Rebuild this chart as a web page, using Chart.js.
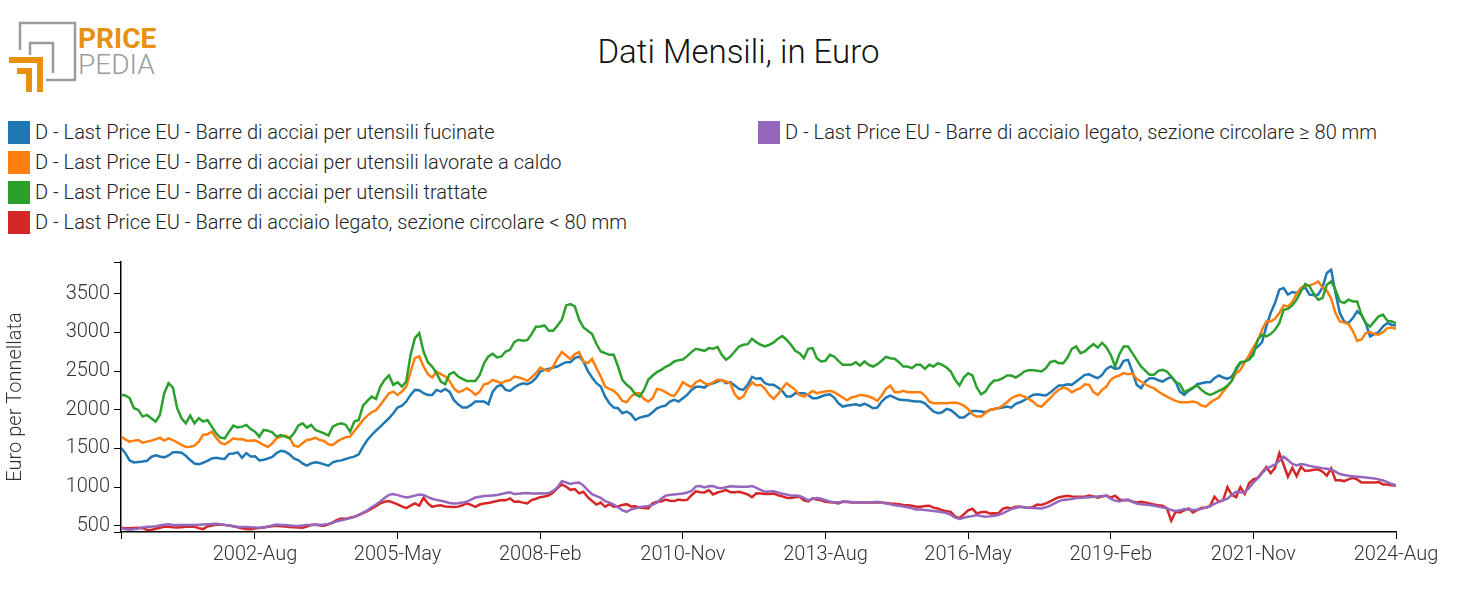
<!DOCTYPE html>
<html>
<head>
<meta charset="utf-8">
<script src="https://cdn.jsdelivr.net/npm/chart.js@4.4.1/dist/chart.umd.min.js"></script>
<style>
  body { margin: 0; background: #fff; }
  #wrap { position: relative; width: 1477px; height: 615px; font-family: Roboto, sans-serif; }
  #chart { position: absolute; left: 0; top: 0; }
  #title { position: absolute; left: 0; top: 32px; width: 1477px; text-align: center;
           font-size: 33px; font-weight: 300; color: #111; }
  .brand { position: absolute; left: 78px; font-size: 28px; line-height: 28px; }
  .leg { position: absolute; height: 23px; font-size: 20px; font-weight: 300; color: #222; white-space: nowrap; }
  .leg span.box { position: absolute; left: 0; top: 0; width: 22px; height: 23px; }
  .leg span.txt { position: absolute; left: 27px; top: 0; line-height: 23px; }
</style>
</head>
<body>
<div id="wrap">
  <svg width="80" height="100" style="position:absolute;left:0;top:0">
    <polyline points="20,50 20,23 75,23 75,80 46,80" fill="none" stroke="#9b9b9b" stroke-width="2.5"/>
    <polyline points="30,55 30,43 53,43 53,73" fill="none" stroke="#9b9b9b" stroke-width="2.5"/>
    <polyline points="9,60 40,60 40,92" fill="none" stroke="#e8900f" stroke-width="6"/>
    <polyline points="17,71 29,71 29,92" fill="none" stroke="#e8900f" stroke-width="6"/>
  </svg>
  <div class="brand" style="top:25px;color:#e8900f;font-weight:700">PRICE</div>
  <div class="brand" style="top:51px;color:#9b9b9b;font-weight:300">PEDIA</div>
  <div id="title">Dati Mensili, in Euro</div>
  <div id="legend"></div>
  <canvas id="chart" width="1477" height="615"></canvas>
</div>
<script>
// monthly values, first one is 2000-Jan
var fucinate = [1510,1440,1345,1320,1325,1330,1340,1390,1410,1395,1385,1410,1450,1450,1445,1405,1350,1305,1295,1315,1340,1370,1380,1370,1365,1430,1435,1450,1380,1440,1395,1400,1345,1355,1370,1390,
  1440,
  1470,1458,1424,1372,1350,1307,1277,1307,1320,1312,1294,1277,1320,1337,1346,1363,1381,1394,1424,1523,1609,1674,1730,1782,1838,1890,1955,2028,2054,2106,2192,2257,2253,2214,2192,2192,2257,
  2235,2270,2235,2127,2071,2028,2028,2063,2106,2106,2106,2071,2235,2300,2322,2257,2244,2287,2322,2343,2330,2356,2408,2494,2516,2529,2546,2559,2589,2615,2615,2667,2689,2624,2503,2417,2343,
  2300,2171,2084,2028,2020,1955,1977,1942,1868,1899,1912,1925,1968,2020,2041,2054,2106,2127,2106,2149,2192,2257,2296,2296,2287,2330,2343,2365,2387,2343,2356,2313,2270,2257,2322,2425,2400,
  2408,2343,2322,2322,2287,2244,2171,2171,2214,2214,2214,2192,2149,2149,2171,2192,2201,2158,2084,2041,2054,2063,2071,2054,2080,2054,2020,2028,2106,2158,2184,2158,2132,2127,2123,2114,2106,
  2106,2084,2028,1977,1955,1968,2011,1994,1951,1899,1899,1942,1985,1985,1977,1968,1998,2011,2020,2028,2041,2028,2076,2097,2123,2158,2192,2201,2192,2184,2222,2270,2313,2313,2330,2322,2365,
  2408,2451,2460,2430,2408,2451,2529,2559,2529,2538,2633,2645,2494,2322,2279,2365,2408,2408,2382,2365,2400,2425,2365,2235,2192,2244,2279,2330,2343,2356,2356,2408,2443,2417,2400,2430,2516,
  2607,2615,2676,2775,2814,2874,3077,3250,3379,3552,3574,3488,3522,3509,3552,3582,3488,3479,3488,3582,3768,3811,3509,3250,3142,3120,3185,3271,3228,3120,2948,2978,3004,3077,3120,3099,3090];

var lavorateCaldo = [1653,1618,1588,1601,1609,1575,1588,1601,1618,1640,1601,1631,1609,1579,1545,1519,1523,1536,1588,1674,1683,1717,1640,1575,1553,1588,1631,1618,1622,1601,1601,1605,1579,1545,1519,1566,1631,
  1653,1666,1640,1536,1523,1566,1609,1618,1640,1609,1596,1553,1545,1588,1622,1644,1653,1726,1795,1868,1925,1968,1994,2063,2140,2214,2235,2192,2235,2300,2494,2667,2689,2559,2460,2417,2494,
  2460,2430,2373,2279,2227,2244,2279,2244,2192,2235,2330,2343,2387,2365,2343,2373,2382,2430,2417,2400,2373,2417,2473,2546,2516,2503,2559,2667,2745,2702,2654,2719,2745,2624,2602,2658,2538,
  2430,2300,2270,2244,2192,2114,2097,2171,2214,2214,2140,2106,2149,2270,2257,2227,2192,2179,2257,2356,2322,2292,2356,2382,2343,2322,2356,2387,2382,2365,2343,2201,2140,2171,2279,2356,2313,
  2322,2270,2192,2140,2201,2279,2343,2300,2257,2192,2171,2201,2244,2214,2227,2235,2244,2227,2192,2158,2123,2158,2171,2192,2184,2171,2149,2114,2184,2270,2313,2227,2227,2244,2227,2227,2227,
  2227,2184,2106,2084,2084,2084,2084,2089,2093,2080,2054,2011,1942,1912,1912,1959,1998,2011,2020,2054,2097,2149,2175,2192,2171,2140,2106,2054,2041,2097,2149,2214,2257,2287,2270,2227,2257,
  2279,2330,2322,2227,2192,2257,2300,2387,2425,2443,2473,2460,2468,2400,2365,2330,2300,2279,2235,2201,2171,2140,2114,2097,2097,2097,2106,2093,2054,2041,2093,2127,2158,2235,2300,2373,2473,
  2516,2615,2702,2805,2892,3034,3142,3142,3177,3250,3349,3336,3392,3496,3574,3600,3608,3626,3660,3582,3539,3436,3250,3142,3129,3108,3021,2892,2905,2991,3004,2978,2969,3004,3056,3064,3047];

var trattate = [2190,2184,2150,2020,1998,1912,1933,1890,1847,1933,2214,2343,2287,2020,1890,1825,1925,1825,1890,1847,1868,1782,1696,1640,1631,1717,1795,1770,1782,1804,1752,1717,1653,1739,1730,1709,1653,
  1674,1653,1631,1696,1795,1825,1770,1804,1739,1717,1696,1666,1782,1812,1825,1804,1717,1847,1868,2054,2114,2171,2140,2300,2387,2443,2322,2356,2300,2365,2710,2926,2991,2753,2615,2559,2473,
  2365,2330,2460,2486,2430,2400,2373,2373,2373,2451,2602,2689,2723,2676,2689,2753,2775,2874,2905,2892,2900,2978,3073,3077,3090,3021,3021,3090,3164,3349,3366,3336,3164,3064,3021,2978,2850,
  2753,2732,2710,2710,2559,2387,2322,2279,2201,2171,2257,2387,2443,2486,2516,2555,2581,2624,2641,2650,2693,2745,2788,2775,2762,2797,2788,2814,2710,2645,2689,2753,2818,2840,2848,2918,2874,
  2840,2818,2840,2870,2918,2952,2905,2840,2762,2732,2667,2788,2797,2667,2624,2633,2710,2689,2633,2581,2581,2581,2615,2572,2624,2581,2559,2589,2633,2684,2667,2659,2615,2559,2559,2538,2581,
  2581,2529,2581,2559,2602,2581,2546,2494,2387,2313,2417,2473,2443,2287,2201,2235,2322,2378,2382,2408,2443,2443,2417,2451,2494,2512,2512,2503,2494,2538,2615,2633,2602,2602,2676,2788,2818,
  2732,2753,2805,2848,2805,2866,2805,2710,2559,2719,2818,2818,2732,2645,2559,2507,2451,2451,2503,2516,2494,2430,2356,2330,2227,2257,2287,2313,2257,2214,2192,2214,2244,2270,2313,2373,2538,
  2615,2624,2646,2710,2905,2969,2948,2978,3034,3120,3293,3306,3349,3423,3531,3626,3595,3496,3423,3444,3617,3660,3552,3401,3379,3423,3401,3401,3228,3120,3077,3142,3207,3228,3151,3142,3120];

var legatoSotto80 = [475,470,468,472,474,470,450,445,462,475,487,488,480,478,482,487,488,487,470,458,492,505,515,517,510,505,495,480,468,460,457,465,470,478,487,495,500,
  495,490,485,480,478,474,490,510,517,505,500,520,545,575,595,590,605,616,640,665,690,720,755,789,810,819,800,776,750,728,760,789,760,862,790,746,759,
  765,750,745,742,748,765,789,770,746,775,789,795,808,820,832,830,854,811,815,800,789,832,850,870,880,895,930,990,1035,1005,965,975,920,940,870,820,775,
  800,746,780,748,752,770,780,750,752,735,730,725,790,811,815,840,825,820,840,830,835,895,945,935,932,962,906,930,945,962,935,935,940,925,905,870,920,
  919,910,912,919,895,880,863,858,868,876,830,815,854,840,830,811,805,800,789,815,810,800,805,802,800,802,800,805,800,795,789,785,778,770,765,760,746,
  746,755,760,735,725,700,690,681,620,600,647,700,720,660,675,681,660,662,660,720,735,725,746,745,740,730,745,775,770,790,815,845,870,880,889,880,876,
  876,876,890,880,863,880,890,863,889,840,832,832,815,802,810,800,789,776,765,759,725,565,681,673,700,725,673,703,733,733,760,876,811,832,1000,900,870,
  1000,910,1050,1100,1120,1190,1260,1180,1250,1440,1290,1135,1250,1143,1264,1208,1215,1225,1230,1200,1148,1242,1090,1090,1078,1100,1121,1100,1061,1061,1061,1061,1065,1035,1035,1025,1018];

var legatoSopra80 = [470,455,448,455,465,478,487,487,495,505,515,520,512,510,510,509,512,512,515,517,520,522,526,520,512,505,495,487,485,485,480,478,474,480,490,505,517,
  512,510,505,500,498,505,509,512,510,515,517,525,540,560,573,585,600,616,640,670,700,740,775,815,860,900,910,897,880,865,875,890,905,900,870,850,835,
  825,810,795,789,792,800,811,840,865,876,885,889,893,897,910,925,932,910,915,920,925,919,918,920,919,925,950,1000,1078,1060,1040,1055,1060,1020,960,910,885,
  860,819,800,775,740,700,681,712,725,740,750,757,770,800,850,889,900,906,912,918,930,950,1010,1015,995,1010,1015,993,985,998,1012,1008,1005,1005,1005,1015,990,
  965,940,945,948,932,915,906,889,893,885,860,830,850,860,850,830,815,802,805,808,810,808,805,802,802,802,805,811,800,789,778,765,759,750,740,725,710,
  712,703,698,692,685,675,665,640,605,590,605,616,625,638,625,616,622,630,640,660,690,716,730,745,740,735,730,728,725,740,760,789,820,835,840,845,860,
  863,865,870,876,880,885,889,850,825,815,835,841,810,789,780,776,768,759,748,738,725,705,692,700,716,710,703,708,720,735,752,785,810,830,850,900,940,
  935,932,990,1060,1113,1180,1240,1264,1290,1340,1394,1350,1300,1280,1300,1290,1275,1264,1255,1245,1238,1230,1200,1170,1158,1148,1140,1135,1130,1125,1118,1113,1100,1085,1065,1040,1025];

var seriesNames = [
  'D - Last Price EU - Barre di acciai per utensili fucinate',
  'D - Last Price EU - Barre di acciai per utensili lavorate a caldo',
  'D - Last Price EU - Barre di acciai per utensili trattate',
  'D - Last Price EU - Barre di acciaio legato, sezione circolare < 80 mm',
  'D - Last Price EU - Barre di acciaio legato, sezione circolare \u2265 80 mm'
];
var seriesColors = ['#1f77b4', '#ff7f0e', '#2ca02c', '#d62728', '#9467bd'];

// x ticks are month indexes counted from 2000-Jan
var xTickMonths = [31, 64, 97, 130, 163, 196, 229, 262, 295];
var xTickLabels = ['2002-Aug', '2005-May', '2008-Feb', '2010-Nov', '2013-Aug', '2016-May', '2019-Feb', '2021-Nov', '2024-Aug'];
var yTickValues = [500, 1000, 1500, 2000, 2500, 3000, 3500];

var allSeries = [fucinate, lavorateCaldo, trattate, legatoSotto80, legatoSopra80];

// html legend, four rows on the left and the last one on the right
var legendPos = [[8, 121], [8, 151], [8, 181], [8, 211], [758, 121]];
var legendEl = document.getElementById('legend');
seriesNames.forEach(function (name, i) {
  var d = document.createElement('div');
  d.className = 'leg';
  d.style.left = legendPos[i][0] + 'px';
  d.style.top = legendPos[i][1] + 'px';
  d.innerHTML = '<span class="box" style="background:' + seriesColors[i] + '"></span><span class="txt"></span>';
  d.querySelector('.txt').textContent = name;
  legendEl.appendChild(d);
});

Chart.defaults.font.family = 'Roboto, sans-serif';
Chart.defaults.font.weight = 300;
Chart.defaults.color = '#333';

var datasets = allSeries.map(function (arr, i) {
  return {
    label: seriesNames[i],
    data: arr.map(function (v, m) { return { x: m, y: v }; }),
    borderColor: seriesColors[i],
    backgroundColor: seriesColors[i],
    borderWidth: 2.5,
    pointRadius: 0,
    tension: 0,
    order: 5 - i
  };
});

new Chart(document.getElementById('chart'), {
  type: 'line',
  data: { datasets: datasets },
  options: {
    responsive: false,
    animation: false,
    devicePixelRatio: 1,
    layout: { padding: { top: 262, right: 81, bottom: 0, left: 0 } },
    plugins: { legend: { display: false }, tooltip: { enabled: false } },
    scales: {
      x: {
        type: 'linear',
        min: 0,
        max: fucinate.length - 1,
        afterFit: function (s) { s.height = 83; },
        afterBuildTicks: function (s) {
          s.ticks = [{ value: 0 }].concat(xTickMonths.map(function (v) { return { value: v }; }));
        },
        ticks: {
          autoSkip: false,
          maxRotation: 0,
          padding: 4,
          font: { size: 20 },
          callback: function (v) {
            var k = xTickMonths.indexOf(v);
            return k < 0 ? '' : xTickLabels[k];
          }
        },
        grid: { drawOnChartArea: false, tickLength: 7, tickColor: '#000' },
        border: { color: '#000', width: 1.5 }
      },
      y: {
        min: 420,
        max: 3910,
        afterFit: function (s) { s.width = 121; },
        afterBuildTicks: function (s) {
          s.ticks = [{ value: 420 }].concat(yTickValues.map(function (v) { return { value: v }; }), [{ value: 3910 }]);
        },
        ticks: {
          autoSkip: false,
          padding: 4,
          font: { size: 20 },
          callback: function (v) { return yTickValues.indexOf(v) < 0 ? '' : String(v); }
        },
        title: {
          display: true,
          text: 'Euro per Tonnellata',
          font: { size: 20 },
          padding: { top: 4, bottom: 0 }
        },
        grid: { drawOnChartArea: false, tickLength: 7, tickColor: '#000' },
        border: { color: '#000', width: 1.5 }
      }
    }
  }
});
</script>
</body>
</html>
